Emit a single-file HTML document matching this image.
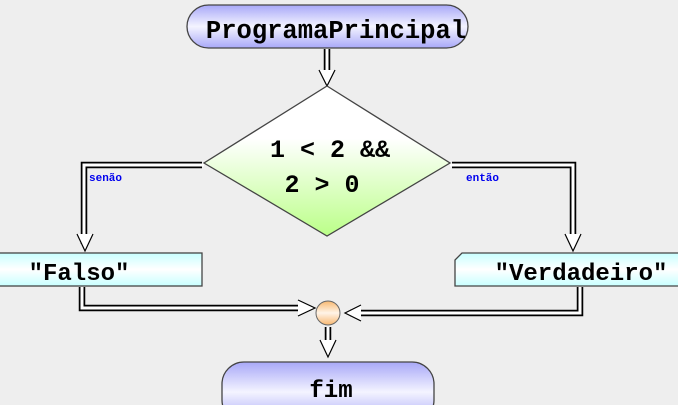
<!DOCTYPE html>
<html><head><style>body{margin:0;background:#eeeeee}svg{display:block}</style></head><body>
<svg width="678" height="405" xmlns="http://www.w3.org/2000/svg">
<defs>
<linearGradient id="pill" x1="0" y1="0" x2="0" y2="1"><stop offset="0" stop-color="#a8a8f8"/><stop offset="0.5" stop-color="#f4f4ff"/><stop offset="1" stop-color="#a8a8f8"/></linearGradient>
<linearGradient id="dia" x1="0" y1="0" x2="0" y2="1"><stop offset="0" stop-color="#ffffff"/><stop offset="0.35" stop-color="#ffffff"/><stop offset="1" stop-color="#bbff88"/></linearGradient>
<linearGradient id="box" x1="0" y1="0" x2="0" y2="1"><stop offset="0" stop-color="#c8ffff"/><stop offset="0.5" stop-color="#ffffff"/><stop offset="1" stop-color="#c8ffff"/></linearGradient>
<linearGradient id="circ" x1="0" y1="0" x2="0" y2="1"><stop offset="0" stop-color="#f8b870"/><stop offset="0.5" stop-color="#fff4e8"/><stop offset="1" stop-color="#f8b870"/></linearGradient>
</defs>
<g fill="none" stroke-linejoin="miter">
<g stroke="#000" stroke-width="6.5">
<polyline points="327,49 327,80"/>
<polyline points="202,165 84,165 84,244"/>
<polyline points="452,165 573,165 573,244"/>
<polyline points="82,287 82,308 308,308"/>
<polyline points="580,287 580,313 350,313"/>
<polyline points="328,327 328,350"/>
</g>
<g stroke="#fff" stroke-width="3">
<polyline points="327,49 327,82"/>
<polyline points="204,165 84,165 84,246"/>
<polyline points="450,165 573,165 573,246"/>
<polyline points="82,287 82,308 310,308"/>
<polyline points="580,287 580,313 348,313"/>
<polyline points="328,327 328,352"/>
</g>
<g stroke="#000" stroke-width="1.2" fill="#fff">
<polyline points="319,70 327,86 335,70"/>
<polyline points="77,234 85,251 93,234"/>
<polyline points="565,234 573,251 581,234"/>
<polyline points="298,300 315,308 298,316"/>
<polyline points="361,305 345,313 361,321"/>
<polyline points="320,340 328,357 336,340"/>
</g>
</g>
<rect x="187" y="5" width="281" height="43" rx="21.5" fill="url(#pill)" stroke="#444" stroke-width="1.3"/>
<text x="336" y="38" font-family="Liberation Mono, monospace" font-weight="bold" font-size="25.5" text-anchor="middle">ProgramaPrincipal</text>
<polygon points="327,86 450,163 327,236 204,163" fill="url(#dia)" stroke="#444" stroke-width="1.3"/>
<text x="330" y="157" font-family="Liberation Mono, monospace" font-weight="bold" font-size="25" text-anchor="middle">1 &lt; 2 &amp;&amp;</text>
<text x="322" y="192" font-family="Liberation Mono, monospace" font-weight="bold" font-size="25" text-anchor="middle">2 &gt; 0</text>
<text x="89" y="181" font-family="Liberation Mono, monospace" font-weight="bold" font-size="11" fill="#0000ee">senão</text>
<text x="466" y="181" font-family="Liberation Mono, monospace" font-weight="bold" font-size="11" fill="#0000ee">então</text>
<rect x="-2" y="253" width="204" height="33" fill="url(#box)" stroke="#444" stroke-width="1.3"/>
<text x="79" y="280" font-family="Liberation Mono, monospace" font-weight="bold" font-size="24" text-anchor="middle">"Falso"</text>
<polygon points="462,253 680,253 680,286 455,286 455,260" fill="url(#box)" stroke="#444" stroke-width="1.3"/>
<text x="581" y="280" font-family="Liberation Mono, monospace" font-weight="bold" font-size="24" text-anchor="middle">"Verdadeiro"</text>
<circle cx="328" cy="313" r="12" fill="url(#circ)" stroke="#666" stroke-width="1"/>
<rect x="222" y="362" width="212" height="60" rx="22" fill="url(#pill)" stroke="#444" stroke-width="1.3"/>
<text x="331" y="397" font-family="Liberation Mono, monospace" font-weight="bold" font-size="24" text-anchor="middle">fim</text>
</svg>
</body></html>
